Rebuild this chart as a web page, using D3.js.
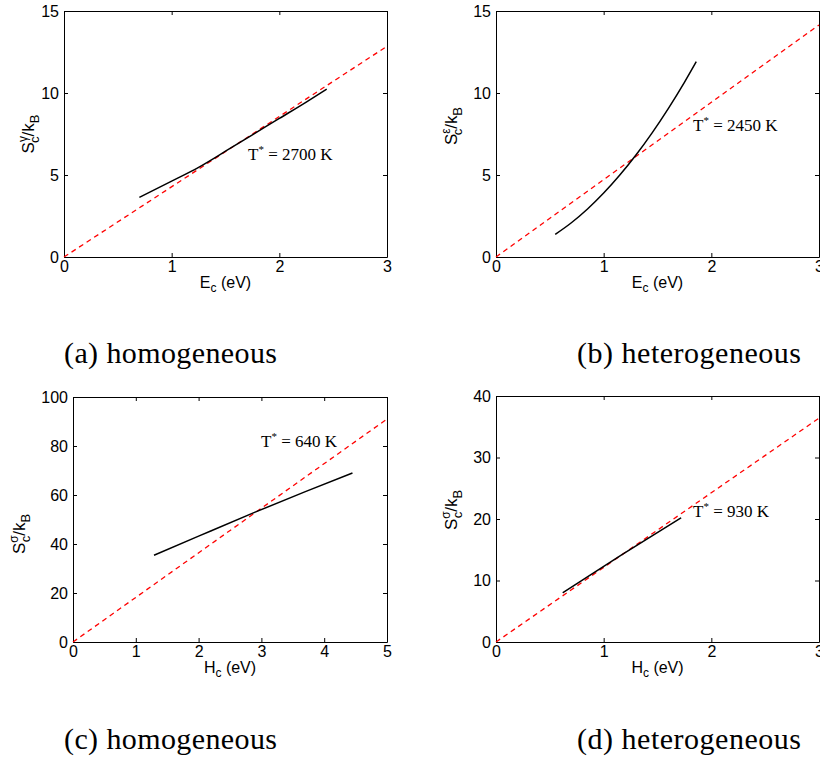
<!DOCTYPE html>
<html>
<head>
<meta charset="utf-8">
<script src="https://cdn.jsdelivr.net/npm/d3@7"></script>
<style>
  body { margin: 0; background: #fff; }
</style>
</head>
<body>
<div id="chart"></div>
<script>
// values
const captions = ["(a) homogeneous", "(b) heterogeneous", "(c) homogeneous", "(d) heterogeneous"];
const tempLabels = ["2700 K", "2450 K", "640 K", "930 K"];
const ySuper = ["\u03b3", "\u03b5", "\u03c3", "\u03c3"];
const xVar = ["E", "E", "H", "H"];

const xTicks = [[0, 1, 2, 3], [0, 1, 2, 3], [0, 1, 2, 3, 4, 5], [0, 1, 2, 3]];
const yTicks = [[0, 5, 10, 15], [0, 5, 10, 15], [0, 20, 40, 60, 80, 100], [0, 10, 20, 30, 40]];

// black curves
const curveAx = [0.7, 1.0, 1.25, 1.5, 1.75, 2.0, 2.25, 2.44];
const curveAy = [3.64, 4.63, 5.47, 6.45, 7.45, 8.45, 9.45, 10.24];
const curveBx = [0.55, 0.7, 0.85, 1.0, 1.15, 1.3, 1.45, 1.6, 1.75, 1.86];
const curveBy = [1.38, 2.09, 2.93, 3.9, 5.0, 6.22, 7.57, 9.05, 10.65, 11.91];
const curveCx = [1.29, 2.0, 2.9, 3.7, 4.45];
const curveCy = [35.4, 43.2, 53.0, 61.4, 69.0];
const curveDx = [0.62, 1.17, 1.72];
const curveDy = [8.0, 14.2, 20.2];

// red dashed reference lines
const refAx = [0, 3], refAy = [0, 12.85];
const refBx = [0, 3], refBy = [0, 14.15];
const refCx = [0, 5], refCy = [0, 91.0];
const refDx = [0, 3], refDy = [0, 36.4];

const curvesX = [curveAx, curveBx, curveCx, curveDx];
const curvesY = [curveAy, curveBy, curveCy, curveDy];
const refsX = [refAx, refBx, refCx, refDx];
const refsY = [refAy, refBy, refCy, refDy];

const width = 820, height = 757;

// panel layout
const boxes = [
  {left: 64,  right: 387, top: 11,  bottom: 257, ylx: 34,  yly: 134, tx: 248, ty: 160, capx: 64,  capy: 363, capw: 213},
  {left: 496, right: 819, top: 11,  bottom: 257, ylx: 457, yly: 126, tx: 693, ty: 131, capx: 577, capy: 363, capw: 224},
  {left: 73,  right: 387, top: 397, bottom: 642, ylx: 25,  yly: 534, tx: 261, ty: 447, capx: 64,  capy: 749, capw: 213},
  {left: 496, right: 819, top: 396, bottom: 642, ylx: 457, yly: 510, tx: 693, ty: 517, capx: 577, capy: 749, capw: 224}
];

const sans = "'Liberation Sans', Arial, sans-serif";
const serif = "'Liberation Serif', 'Times New Roman', serif";

const svg = d3.select("#chart").append("svg")
    .attr("width", width)
    .attr("height", height);

boxes.forEach((b, i) => {
  const x = d3.scaleLinear().domain([0, d3.max(xTicks[i])]).range([b.left, b.right]);
  const y = d3.scaleLinear().domain([0, d3.max(yTicks[i])]).range([b.bottom, b.top]);

  const g = svg.append("g");

  // axes: ticks point inward on all four sides
  const axes = [
    [d3.axisBottom(x).tickValues(xTicks[i]).tickFormat(d3.format("d")).tickPadding(4), `translate(0,${b.bottom})`],
    [d3.axisTop(x).tickValues(xTicks[i]).tickFormat(""), `translate(0,${b.top})`],
    [d3.axisLeft(y).tickValues(yTicks[i]).tickFormat(d3.format("d")).tickPadding(5), `translate(${b.left},0)`],
    [d3.axisRight(y).tickValues(yTicks[i]).tickFormat(""), `translate(${b.right},0)`]
  ];
  axes.forEach(([ax, tr]) => {
    g.append("g")
      .attr("transform", tr)
      .call(ax.tickSizeInner(-4).tickSizeOuter(0))
      .attr("font-family", sans)
      .attr("font-size", 16);
  });

  const line = d3.line()
      .x(d => x(d[0]))
      .y(d => y(d[1]));

  // red dashed line
  g.append("path")
    .datum(d3.zip(refsX[i], refsY[i]))
    .attr("fill", "none")
    .attr("stroke", "#f00")
    .attr("stroke-width", 1.3)
    .attr("stroke-dasharray", "5,4")
    .attr("d", line);

  // black curve
  g.append("path")
    .datum(d3.zip(curvesX[i], curvesY[i]))
    .attr("fill", "none")
    .attr("stroke", "#000")
    .attr("stroke-width", 1.5)
    .attr("d", line.curve(d3.curveMonotoneX));

  // y label  S_c^x / k_B
  const yl = g.append("text")
      .attr("transform", `translate(${b.ylx},${b.yly}) rotate(-90)`)
      .attr("text-anchor", "middle")
      .attr("font-family", sans)
      .attr("font-size", 17);
  yl.append("tspan").text("S");
  yl.append("tspan").attr("font-size", 12).attr("dy", -7).text(ySuper[i]);
  yl.append("tspan").attr("font-size", 13).attr("dx", -7).attr("dy", 12).text("c");
  yl.append("tspan").attr("dy", -5).text("/k");
  yl.append("tspan").attr("font-size", 13).attr("dy", 5).text("B");

  // x label
  const xl = g.append("text")
      .attr("x", (b.left + b.right) / 2)
      .attr("y", b.bottom + 31)
      .attr("text-anchor", "middle")
      .attr("font-family", sans)
      .attr("font-size", 16);
  xl.append("tspan").text(xVar[i]);
  xl.append("tspan").attr("font-size", 12).attr("dy", 4).text("c");
  xl.append("tspan").attr("dy", -4).text(" (eV)");

  // T* annotation
  const t = g.append("text")
      .attr("x", b.tx)
      .attr("y", b.ty)
      .attr("font-family", serif)
      .attr("font-size", 17);
  t.append("tspan").text("T");
  t.append("tspan").attr("font-size", 11).attr("dy", -7).text("*");
  t.append("tspan").attr("dy", 7).text(" = " + tempLabels[i]);

  // caption
  svg.append("text")
    .attr("x", b.capx)
    .attr("y", b.capy)
    .attr("font-family", serif)
    .attr("font-size", 30)
    .attr("textLength", b.capw)
    .attr("lengthAdjust", "spacing")
    .text(captions[i]);
});
</script>
</body>
</html>
